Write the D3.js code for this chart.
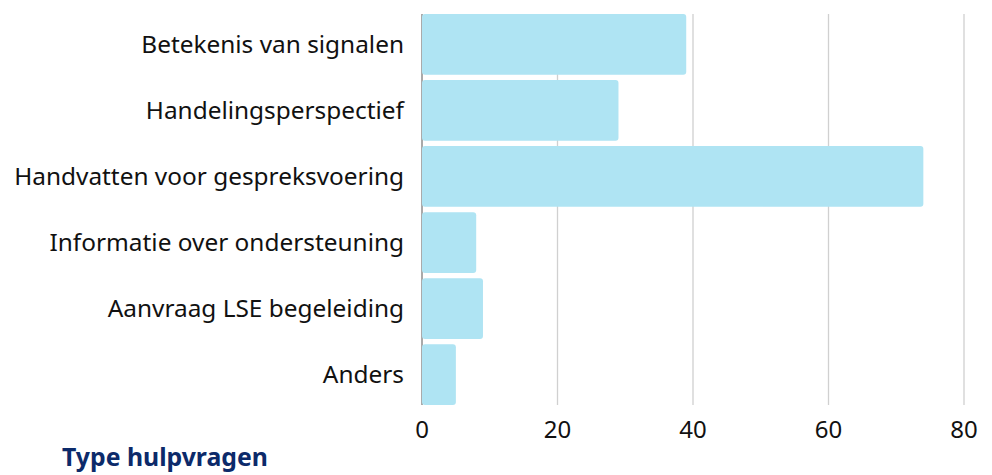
<!DOCTYPE html>
<html>
<head>
<meta charset="utf-8">
<script src="https://cdn.jsdelivr.net/npm/d3@7"></script>
<style>
  body { margin: 0; background: #fff; }
  svg { display: block; }
</style>
</head>
<body>
<svg width="992" height="475"></svg>
<script>
var categories = ["Betekenis van signalen", "Handelingsperspectief", "Handvatten voor gespreksvoering",
  "Informatie over ondersteuning", "Aanvraag LSE begeleiding", "Anders"];
var values = [39, 29, 74, 8, 9, 5];
var xTicks = [0, 20, 40, 60, 80];
var title = "Type hulpvragen";

var svg = d3.select("svg"),
  margin = {top: 14, right: 28, bottom: 70, left: 422};

var x = d3.scaleLinear().domain([0, 80]).range([0, 542]);
var y = d3.scaleBand().domain(categories).range([0, 391]).paddingInner(0.08).paddingOuter(0);

var g = svg.append("g").attr("transform", "translate(" + margin.left + "," + margin.top + ")");
var fontFam = "'Source Sans Pro', 'Noto Sans', sans-serif";

// grid
g.selectAll(".grid").data(xTicks.slice(1)).enter().append("line")
  .attr("x1", function(d) { return x(d); }).attr("x2", function(d) { return x(d); })
  .attr("y1", 0).attr("y2", 391)
  .attr("stroke", "#d0d0d0").attr("stroke-width", 1.3);

g.append("line").attr("x1", 0).attr("x2", 0).attr("y1", 0).attr("y2", 391)
  .attr("stroke", "#555").attr("stroke-width", 1);

// bars
g.selectAll(".bar").data(values).enter().append("rect")
  .attr("x", 0)
  .attr("y", function(d, i) { return y(categories[i]); })
  .attr("width", function(d) { return x(d); })
  .attr("height", y.bandwidth())
  .attr("rx", 3)
  .attr("fill", "#afe4f3");

// category labels
g.selectAll(".lbl").data(categories).enter().append("text")
  .attr("x", -18)
  .attr("y", function(d) { return y(d) + y.bandwidth() / 2; })
  .attr("dy", "0.35em")
  .attr("text-anchor", "end")
  .style("font", "24.4px " + fontFam)
  .attr("fill", "#111")
  .text(function(d) { return d; });

// x tick labels
g.selectAll(".tick").data(xTicks).enter().append("text")
  .attr("x", function(d) { return x(d); })
  .attr("y", 424)
  .attr("text-anchor", "middle")
  .style("font", "24px " + fontFam)
  .attr("fill", "#111")
  .text(function(d) { return d; });

svg.append("text")
  .attr("x", 62).attr("y", 466)
  .style("font", "bold 24.8px " + fontFam)
  .attr("fill", "#0c2a6a")
  .text(title);
</script>
</body>
</html>
